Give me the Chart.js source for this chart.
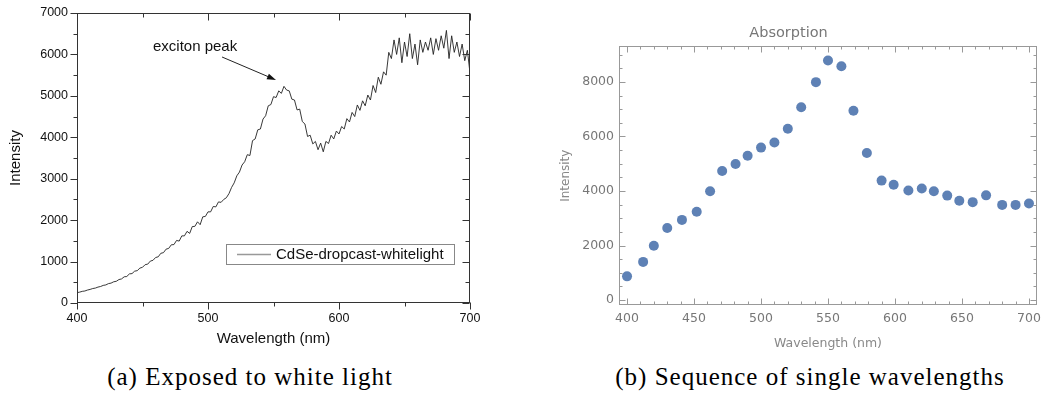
<!DOCTYPE html>
<html>
<head>
<meta charset="utf-8">
<script src="https://cdn.jsdelivr.net/npm/chart.js@4"></script>
<style>
  html, body { margin: 0; padding: 0; background: #fff; }
  body { width: 1048px; height: 401px; position: relative; overflow: hidden; }
  canvas { position: absolute; top: 0; }
  #left { left: 0; }
  #right { left: 540px; }
  .caption { position: absolute; top: 363px; font-family: "Liberation Serif", serif; font-size: 25px; letter-spacing: 1px; color: #000; white-space: nowrap; transform: translateX(-50%); }
</style>
</head>
<body>
<canvas id="left" width="480" height="360"></canvas>
<canvas id="right" width="508" height="360"></canvas>
<div class="caption" style="left:250px">(a) Exposed to white light</div>
<div class="caption" style="left:810px">(b) Sequence of single wavelengths</div>
<script>
// (a) white light spectrum, every 2 nm
const whiteWavelength = [400,402,404,406,408,410,412,414,416,418,420,422,424,426,428,430,432,434,436,438,440,442,444,446,448,450,452,454,456,458,460,462,464,466,468,470,472,474,476,478,480,482,484,486,488,490,492,494,496,498,500,502,504,506,508,510,512,514,516,518,520,522,524,526,528,530,532,534,536,538,540,542,544,546,548,550,552,554,556,558,560,562,564,566,568,570,572,574,576,578,580,582,584,586,588,590,592,594,596,598,600,602,604,606,608,610,612,614,616,618,620,622,624,626,628,630,632,634,636,638,640,642,644,646,648,650,652,654,656,658,660,662,664,666,668,670,672,674,676,678,680,682,684,686,688,690,692,694,696,698,700];
const whiteIntensity = [250,262,281,290,313,328,349,360,384,398,425,436,468,480,512,524,566,581,632,640,702,710,768,781,842,862,925,938,1012,1030,1098,1115,1200,1215,1300,1318,1405,1410,1510,1495,1620,1620,1730,1680,1845,1850,1960,1890,2080,2090,2200,2200,2330,2320,2440,2430,2500,2540,2640,2790,2900,3070,3160,3330,3410,3580,3560,3920,3960,4180,4200,4440,4520,4760,4790,4980,4960,5120,5060,5230,5140,5120,4920,4900,4660,4680,4380,4320,4020,4050,3840,3900,3700,3860,3650,3900,3850,4050,3960,4150,4080,4260,4200,4450,4370,4600,4500,4780,4650,4880,4760,5020,4900,5250,5080,5450,5280,5580,5500,6050,5900,6350,6000,6400,5800,6300,5950,6500,5900,6250,5750,6350,6050,6300,6100,6400,6000,6380,6100,6450,6150,6580,5900,6450,6050,6300,5950,6250,5850,6100,5550];
const whiteXTicks = [400, 500, 600, 700];
const whiteYTicks = [0, 1000, 2000, 3000, 4000, 5000, 6000, 7000];
const whiteLabel = 'CdSe-dropcast-whitelight';
const peakNote = 'exciton peak';
const peakTextAt = [458, 6180];
const peakArrow = [[510.7, 5938], [551.9, 5383]];

// (b) single wavelength sequence
const seqWavelength = [400,412,420,430,441,452,462,471,481,490,500,510,520,530,541,550,560,569,579,590,599,610,620,629,639,648,658,668,680,690,700];
const seqIntensity = [870,1400,1990,2640,2940,3240,3990,4730,4990,5290,5590,5780,6280,7070,7990,8780,8570,6940,5390,4380,4230,4020,4090,3990,3830,3640,3590,3840,3490,3490,3540];
const seqXTicks = [400, 450, 500, 550, 600, 650, 700];
const seqYTicks = [0, 2000, 4000, 6000, 8000];

function fixSize(w, h) {
  return function(scale) {
    if (w !== null) scale.width = w;
    if (h !== null) scale.height = h;
    scale.paddingLeft = 0; scale.paddingRight = 0;
    scale.paddingTop = 0; scale.paddingBottom = 0;
  };
}
const plain = v => String(v);

// frame + tick marks, Origin style on left, Mathematica style on right
function frameTicks(cfg) {
  return {
    id: 'frameTicks',
    afterDraw(chart) {
      const ctx = chart.ctx;
      const a = chart.chartArea;
      const xs = chart.scales.x, ys = chart.scales.y;
      ctx.save();
      ctx.strokeStyle = cfg.color;
      ctx.lineWidth = 1;
      const L = Math.round(a.left) + 0.5, R = Math.round(a.right) - 0.5;
      const T = Math.round(a.top) + 0.5, B = Math.round(a.bottom) - 0.5;
      ctx.strokeRect(L, T, R - L, B - T);
      ctx.beginPath();
      const xt = (v, len) => {
        const p = Math.round(xs.getPixelForValue(v)) + 0.5;
        ctx.moveTo(p, B); ctx.lineTo(p, B + (cfg.outBottom ? len : -len));
        ctx.moveTo(p, T); ctx.lineTo(p, T + len);
      };
      const yt = (v, len) => {
        const p = Math.round(ys.getPixelForValue(v)) + 0.5;
        ctx.moveTo(L, p); ctx.lineTo(L + (cfg.outLeft ? -len : len), p);
        ctx.moveTo(R, p); ctx.lineTo(R - len, p);
      };
      cfg.xMajor.forEach(v => xt(v, cfg.major));
      cfg.yMajor.forEach(v => yt(v, cfg.major));
      for (let v = cfg.xMajor[0]; v <= cfg.xMajor[cfg.xMajor.length - 1]; v += cfg.xMinorStep) {
        if (!cfg.xMajor.includes(v)) xt(v, cfg.minor);
      }
      for (let v = cfg.yMinorFrom; v <= cfg.yMinorTo; v += cfg.yMinorStep) {
        if (!cfg.yMajor.includes(v)) yt(v, cfg.minor);
      }
      ctx.stroke();
      ctx.restore();
    }
  };
}

const notesPlugin = {
  id: 'notes',
  afterDraw(chart) {
    const ctx = chart.ctx;
    const a = chart.chartArea;
    const xs = chart.scales.x, ys = chart.scales.y;
    ctx.save();
    // annotation
    ctx.font = '15px "Liberation Sans", Arial, sans-serif';
    ctx.fillStyle = '#111';
    ctx.textBaseline = 'middle';
    ctx.textAlign = 'left';
    ctx.fillText(peakNote, xs.getPixelForValue(peakTextAt[0]), ys.getPixelForValue(peakTextAt[1]));
    const x1 = xs.getPixelForValue(peakArrow[0][0]), y1 = ys.getPixelForValue(peakArrow[0][1]);
    const x2 = xs.getPixelForValue(peakArrow[1][0]), y2 = ys.getPixelForValue(peakArrow[1][1]);
    const ang = Math.atan2(y2 - y1, x2 - x1);
    ctx.strokeStyle = '#222';
    ctx.lineWidth = 1;
    ctx.beginPath();
    ctx.moveTo(x1, y1);
    ctx.lineTo(x2 - 6 * Math.cos(ang), y2 - 6 * Math.sin(ang));
    ctx.stroke();
    ctx.fillStyle = '#111';
    ctx.beginPath();
    ctx.moveTo(x2, y2);
    ctx.lineTo(x2 - 9 * Math.cos(ang) + 3 * Math.sin(ang), y2 - 9 * Math.sin(ang) - 3 * Math.cos(ang));
    ctx.lineTo(x2 - 9 * Math.cos(ang) - 3 * Math.sin(ang), y2 - 9 * Math.sin(ang) + 3 * Math.cos(ang));
    ctx.closePath();
    ctx.fill();
    // legend box inside the plot
    const bx = a.right - 244, by = a.bottom - 59;
    ctx.strokeStyle = '#888';
    ctx.strokeRect(Math.round(bx) + 0.5, Math.round(by) + 0.5, 228, 20);
    ctx.strokeStyle = '#999';
    ctx.lineWidth = 1.5;
    ctx.beginPath();
    ctx.moveTo(bx + 11, by + 10.5);
    ctx.lineTo(bx + 45, by + 10.5);
    ctx.stroke();
    ctx.fillStyle = '#111';
    ctx.fillText(whiteLabel, bx + 50, by + 11);
    ctx.restore();
  }
};

const sansL = '"Liberation Sans", Arial, sans-serif';

new Chart(document.getElementById('left'), {
  type: 'line',
  data: {
    datasets: [{
      label: whiteLabel,
      data: whiteWavelength.map((w, i) => ({x: w, y: whiteIntensity[i]})),
      borderColor: '#222',
      borderWidth: 0.9,
      pointRadius: 0,
      tension: 0
    }]
  },
  options: {
    responsive: false,
    animation: false,
    devicePixelRatio: 1,
    layout: { padding: { top: 13, right: 10, left: 0, bottom: 0 } },
    plugins: { legend: { display: false }, tooltip: { enabled: false } },
    scales: {
      x: {
        type: 'linear', min: 400, max: 700,
        afterFit: fixSize(null, 57),
        afterBuildTicks: s => { s.ticks = whiteXTicks.map(v => ({value: v})); },
        grid: { display: false, drawTicks: false },
        border: { display: false },
        ticks: { padding: 8, color: '#111', font: { family: sansL, size: 12.5 }, maxRotation: 0, callback: plain },
        title: { display: true, text: 'Wavelength (nm)', color: '#111', font: { family: sansL, size: 15 }, padding: { top: 0, bottom: 12 } }
      },
      y: {
        min: 0, max: 7000,
        afterFit: fixSize(77, null),
        afterBuildTicks: s => { s.ticks = whiteYTicks.map(v => ({value: v})); },
        grid: { display: false, drawTicks: false },
        border: { display: false },
        ticks: { padding: 9, color: '#111', font: { family: sansL, size: 12.5 }, callback: plain },
        title: { display: true, text: 'Intensity', color: '#111', font: { family: sansL, size: 15 }, padding: { top: 7, bottom: 0 } }
      }
    }
  },
  plugins: [frameTicks({
    color: '#333', major: 7, minor: 4, outBottom: true, outLeft: true,
    xMajor: whiteXTicks, yMajor: whiteYTicks, xMinorStep: 50,
    yMinorFrom: 500, yMinorTo: 6500, yMinorStep: 1000
  }), notesPlugin]
});

const sansR = '"DejaVu Sans", sans-serif';

new Chart(document.getElementById('right'), {
  type: 'scatter',
  data: {
    datasets: [{
      label: 'Absorption',
      data: seqWavelength.map((w, i) => ({x: w, y: seqIntensity[i]})),
      backgroundColor: '#5E81B5',
      borderWidth: 0,
      pointRadius: 5
    }]
  },
  options: {
    responsive: false,
    animation: false,
    devicePixelRatio: 1,
    layout: { padding: { top: 0, right: 11, left: 0, bottom: 0 } },
    plugins: {
      legend: { display: false },
      tooltip: { enabled: false },
      title: { display: true, text: 'Absorption', color: '#777', font: { family: sansR, size: 14.5, weight: 'normal' }, padding: { top: 25, bottom: 4 } }
    },
    scales: {
      x: {
        type: 'linear', min: 394, max: 706,
        afterFit: fixSize(null, 55),
        afterBuildTicks: s => { s.ticks = seqXTicks.map(v => ({value: v})); },
        grid: { display: false, drawTicks: false },
        border: { display: false },
        ticks: { padding: 6, color: '#777', font: { family: sansR, size: 12.5 }, maxRotation: 0, callback: plain },
        title: { display: true, text: 'Wavelength (nm)', color: '#888', font: { family: sansR, size: 12.5 }, padding: { top: 0, bottom: 9 } }
      },
      y: {
        min: -180, max: 9300,
        afterFit: fixSize(79, null),
        afterBuildTicks: s => { s.ticks = seqYTicks.map(v => ({value: v})); },
        grid: { display: false, drawTicks: false },
        border: { display: false },
        ticks: { padding: 5, color: '#777', font: { family: sansR, size: 12.5 }, callback: plain },
        title: { display: true, text: 'Intensity', color: '#888', font: { family: sansR, size: 12 }, padding: { top: 19, bottom: 0 } }
      }
    }
  },
  plugins: [frameTicks({
    color: '#999', major: 6, minor: 3, outBottom: false, outLeft: false,
    xMajor: seqXTicks, yMajor: seqYTicks, xMinorStep: 10,
    yMinorFrom: 500, yMinorTo: 9000, yMinorStep: 500
  })]
});
</script>
</body>
</html>
